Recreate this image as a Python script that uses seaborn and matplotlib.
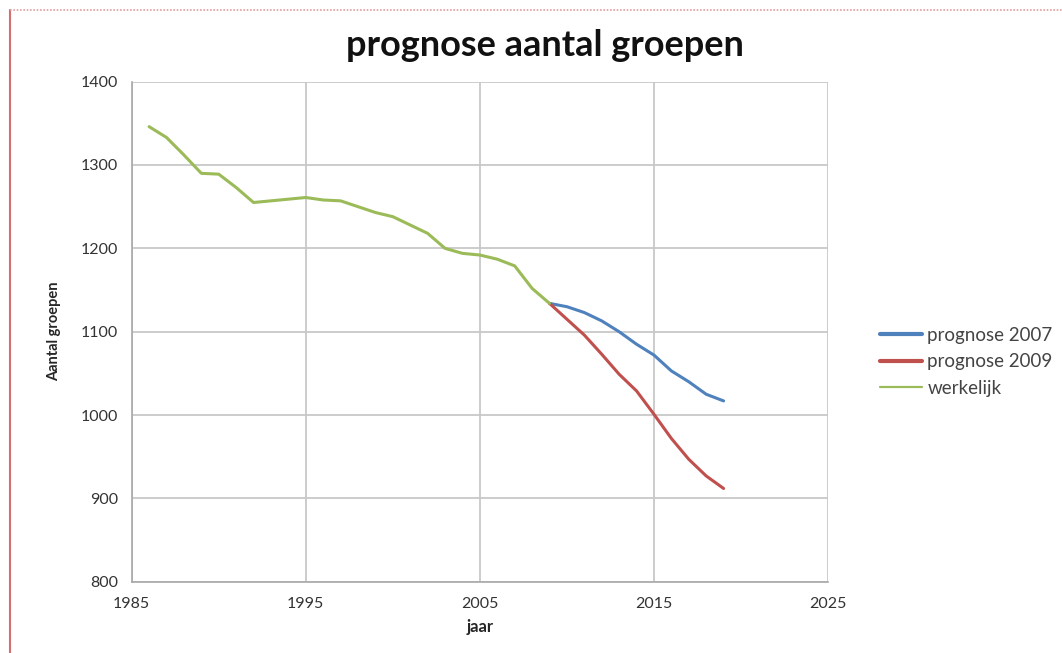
import matplotlib
matplotlib.use("Agg")
import matplotlib.pyplot as plt
import seaborn as sns
import pandas as pd
from matplotlib.lines import Line2D
from matplotlib.ticker import MultipleLocator, FixedLocator

years_actual = list(range(1986, 2010))
werkelijk = [1346, 1333, 1312, 1290, 1289, 1273, 1255, 1257, 1259, 1261, 1258, 1257,
             1250, 1243, 1238, 1228, 1218, 1200, 1194, 1192, 1187, 1179, 1152, 1134]
years_prog = list(range(2009, 2020))
prognose_2007 = [1134, 1130, 1123, 1113, 1100, 1085, 1072, 1053, 1040, 1025, 1017]
prognose_2009 = [1134, 1115, 1096, 1073, 1049, 1029, 1001, 972, 947, 927, 912]

x_ticks = [1985, 1995, 2005, 2015, 2025]
y_ticks = [800, 900, 1000, 1100, 1200, 1300, 1400]

series_names = ["prognose 2007", "prognose 2009", "werkelijk"]
colors = ["#4F81BD", "#C0504D", "#9BBB59"]

df = pd.concat([
    pd.DataFrame({"jaar": years_prog, "waarde": prognose_2007, "serie": series_names[0]}),
    pd.DataFrame({"jaar": years_prog, "waarde": prognose_2009, "serie": series_names[1]}),
    pd.DataFrame({"jaar": years_actual, "waarde": werkelijk, "serie": series_names[2]}),
])

sns.set_style("white")
plt.rcParams['font.family'] = ['Lato', 'DejaVu Sans']

fig = plt.figure(figsize=(10.62, 6.53), dpi=100)
ax = fig.add_axes([0.124, 0.109, 0.6557, 0.766])

sns.lineplot(data=df, x="jaar", y="waarde", hue="serie", hue_order=series_names,
             palette=colors, linewidth=2.2, ax=ax, legend=False)

ax.set_xlim(1985, 2025)
ax.set_ylim(800, 1400)
ax.xaxis.set_major_locator(FixedLocator(x_ticks))
ax.xaxis.set_minor_locator(MultipleLocator(1))
ax.yaxis.set_major_locator(FixedLocator(y_ticks))
ax.grid(True, which="major", color="#c8c8c8", linewidth=1.3)
ax.set_axisbelow(True)
for s in ["top", "right"]:
    ax.spines[s].set_visible(False)
for s in ["left", "bottom"]:
    ax.spines[s].set_color("#a8a8a8")
    ax.spines[s].set_linewidth(1.2)
ax.tick_params(axis="both", which="major", direction="out", length=5, color="#a8a8a8",
               labelsize=11.5, labelcolor="#333333", width=1)
ax.tick_params(axis="x", which="minor", direction="out", length=4, color="#a8a8a8", width=1)
ax.tick_params(axis="x", pad=6)
ax.tick_params(axis="y", pad=5)

ax.set_xlabel("jaar", fontsize=12, fontweight="bold", labelpad=6)
ax.set_ylabel("Aantal groepen", fontsize=10.5, fontweight="bold", labelpad=14)

fig.text(0.513, 0.93, "prognose aantal groepen", ha="center", va="center",
         fontsize=26, fontweight="bold", color="#111111")

handles = [Line2D([0], [0], color=colors[0], linewidth=3),
           Line2D([0], [0], color=colors[1], linewidth=3),
           Line2D([0], [0], color=colors[2], linewidth=1.6)]
leg = fig.legend(handles, series_names, loc="center left", bbox_to_anchor=(0.829, 0.446),
                 frameon=False, fontsize=13.5, handlelength=2.2, labelspacing=0.5,
                 handletextpad=0.3, borderaxespad=0, borderpad=0)
for t in leg.get_texts():
    t.set_color("#444444")

# red frame remnants
fig.add_artist(Line2D([0.0095, 0.0095], [0.0, 0.985], transform=fig.transFigure,
                      color="#d07070", linewidth=1.5))
fig.add_artist(Line2D([0.0095, 1.0], [0.985, 0.985], transform=fig.transFigure,
                      color="#e0a0a0", linewidth=1.2, linestyle=(0, (1, 1))))

fig.savefig("out.png", dpi=100, facecolor="white")
